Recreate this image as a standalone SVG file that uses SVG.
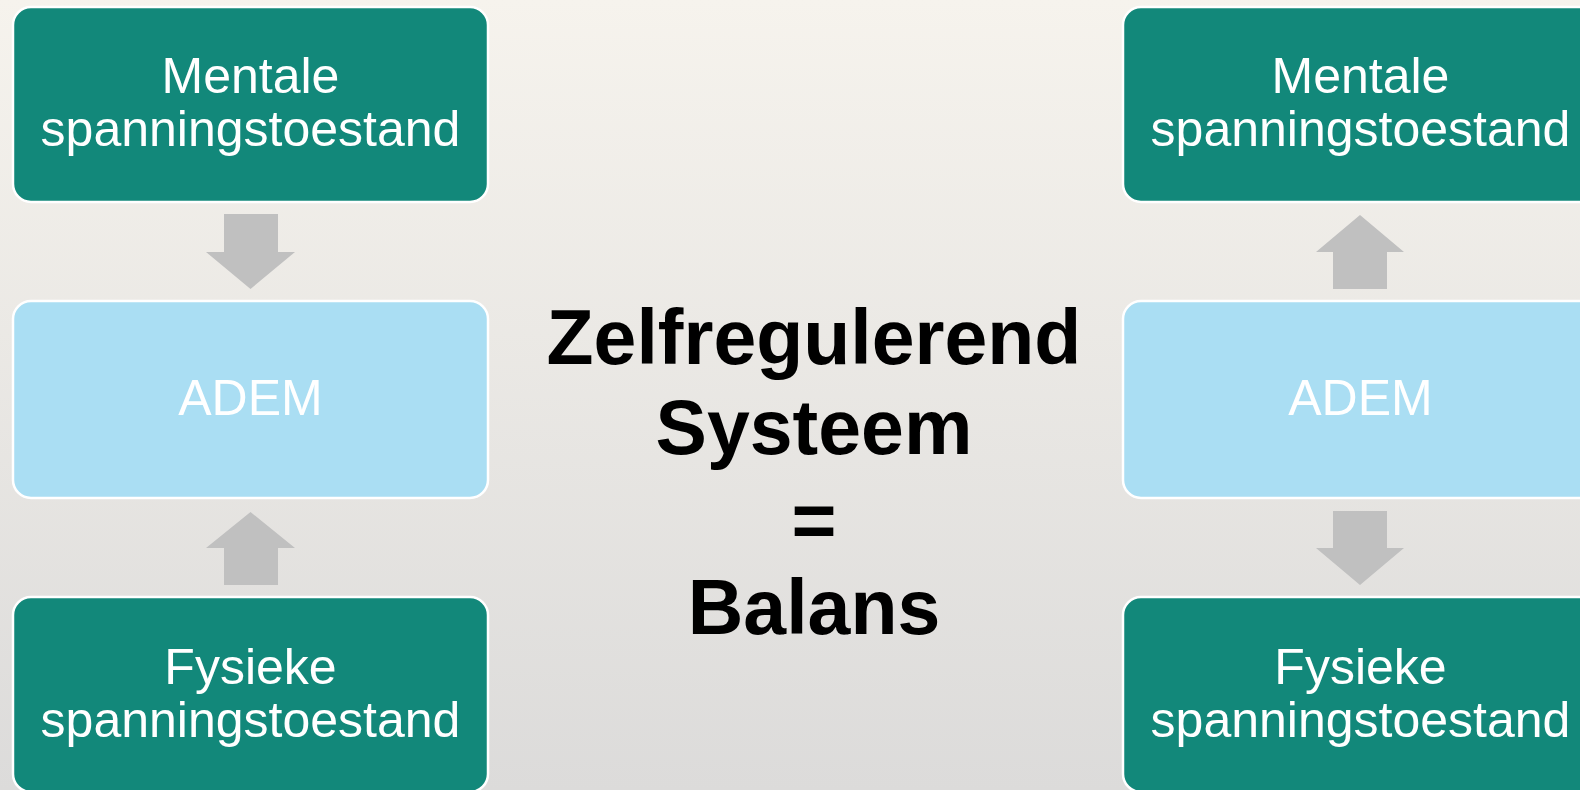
<svg xmlns="http://www.w3.org/2000/svg" width="1580" height="790" viewBox="0 0 1580 790">
  <defs>
    <linearGradient id="bg" x1="0" y1="0" x2="0" y2="1">
      <stop offset="0" stop-color="#f6f3ed"/>
      <stop offset="1" stop-color="#dcdbda"/>
    </linearGradient>
  </defs>
  <style>
    .dark { fill: #12887a; stroke: #ffffff; stroke-width: 2.5; }
    .light { fill: #aadef3; stroke: #ffffff; stroke-width: 2.5; }
    .lbl { font-family: "Liberation Sans", Arial, sans-serif; font-size: 50px; fill: #ffffff; text-anchor: middle; }
    .arrow { fill: #c0c0c0; }
    .title { font-family: "Liberation Sans", Arial, sans-serif; font-size: 77px; font-weight: bold; fill: #000000; text-anchor: middle; }
  </style>
  <rect x="0" y="0" width="1580" height="790" fill="url(#bg)"/>

  <g id="left-mentale">
    <rect class="dark" x="13" y="7" width="475" height="195" rx="18"/>
    <text class="lbl" x="250.5" y="93">Mentale</text>
    <text class="lbl" x="250.5" y="146">spanningstoestand</text>
  </g>
  <g id="left-adem">
    <rect class="light" x="13" y="301" width="475" height="197" rx="18"/>
    <text class="lbl" x="250.5" y="415">ADEM</text>
  </g>
  <g id="left-fysieke">
    <rect class="dark" x="13" y="597" width="475" height="195" rx="18"/>
    <text class="lbl" x="250.5" y="684">Fysieke</text>
    <text class="lbl" x="250.5" y="737">spanningstoestand</text>
  </g>

  <g id="right-mentale">
    <rect class="dark" x="1123" y="7" width="475" height="195" rx="18"/>
    <text class="lbl" x="1360.5" y="93">Mentale</text>
    <text class="lbl" x="1360.5" y="146">spanningstoestand</text>
  </g>
  <g id="right-adem">
    <rect class="light" x="1123" y="301" width="475" height="197" rx="18"/>
    <text class="lbl" x="1360.5" y="415">ADEM</text>
  </g>
  <g id="right-fysieke">
    <rect class="dark" x="1123" y="597" width="475" height="195" rx="18"/>
    <text class="lbl" x="1360.5" y="684">Fysieke</text>
    <text class="lbl" x="1360.5" y="737">spanningstoestand</text>
  </g>

  <g id="connectors">
    <polygon class="arrow" points="224,214 278,214 278,252 295,252 250.5,289 206,252 224,252"/>
    <polygon class="arrow" points="250.5,512 295,548 278,548 278,585 224,585 224,548 206,548"/>
    <polygon class="arrow" points="1360,215 1404,252 1387,252 1387,289 1333,289 1333,252 1316,252"/>
    <polygon class="arrow" points="1333,511 1387,511 1387,548 1404,548 1360,585 1316,548 1333,548"/>
  </g>

  <g id="title">
    <text class="title" x="814" y="364">Zelfregulerend</text>
    <text class="title" x="814" y="454">Systeem</text>
    <text class="title" x="814" y="547">=</text>
    <text class="title" x="814" y="634">Balans</text>
  </g>
</svg>
